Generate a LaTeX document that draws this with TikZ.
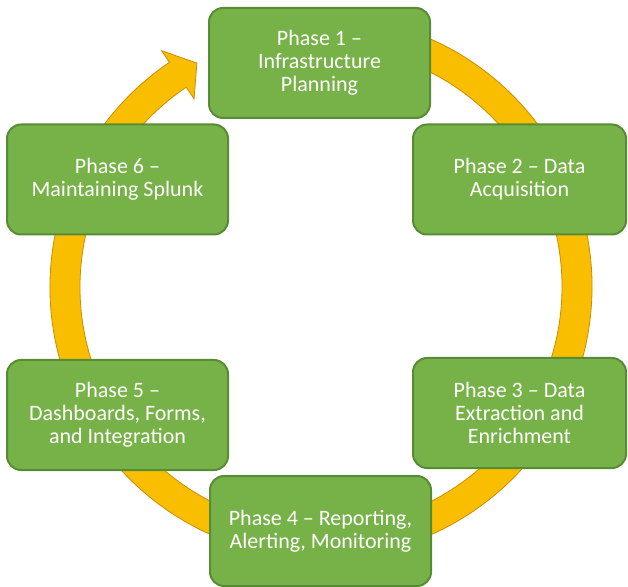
\documentclass[tikz,border=0pt]{standalone}
\usepackage{fontspec}
\setmainfont{Carlito}
\usepackage{tikz}

\definecolor{phasegreen}{RGB}{119,178,72}
\definecolor{phaseedge}{RGB}{88,140,52}
\definecolor{ringgold}{RGB}{250,190,0}
\definecolor{ringedge}{RGB}{205,140,0}

\begin{document}
\begin{tikzpicture}[x=1pt, y=1pt,
    phase/.style={draw=phaseedge, line width=2pt, rounded corners=14pt, fill=phasegreen,
      text=white, align=center, font=\fontsize{22}{23}\selectfont,
      minimum width=221pt, minimum height=110pt, inner sep=0pt}]
    \useasboundingbox (0,0) rectangle (628,586);

    % === CYCLE ARROW (behind the boxes) ===
    \coordinate (hub) at (321,299);
    \filldraw[fill=ringgold, draw=ringedge, line width=0.8pt, shift={(hub)}]
      (80:271) arc[start angle=80, end angle=-236, radius=271]
      -- (-236:285) -- (-241:256) -- (-236:227) -- (-236:241)
      arc[start angle=-236, end angle=80, radius=241] -- cycle;

    % === PHASE BOXES ===
    \node[phase] (p1) at (319.5,523) {Phase 1 –\\Infrastructure\\Planning};
    \node[phase, minimum width=213pt] (p2) at (519.5,406.5) {Phase 2 – Data\\Acquisition};
    \node[phase, minimum width=213pt] (p3) at (519.5,173) {Phase 3 – Data\\Extraction and\\Enrichment};
    \node[phase] (p4) at (320.5,55) {Phase 4 – Reporting,\\Alerting, Monitoring};
    \node[phase] (p5) at (117.5,171) {Phase 5 –\\Dashboards, Forms,\\and Integration};
    \node[phase] (p6) at (117.5,406.5) {Phase 6 –\\Maintaining Splunk};
\end{tikzpicture}
\end{document}
